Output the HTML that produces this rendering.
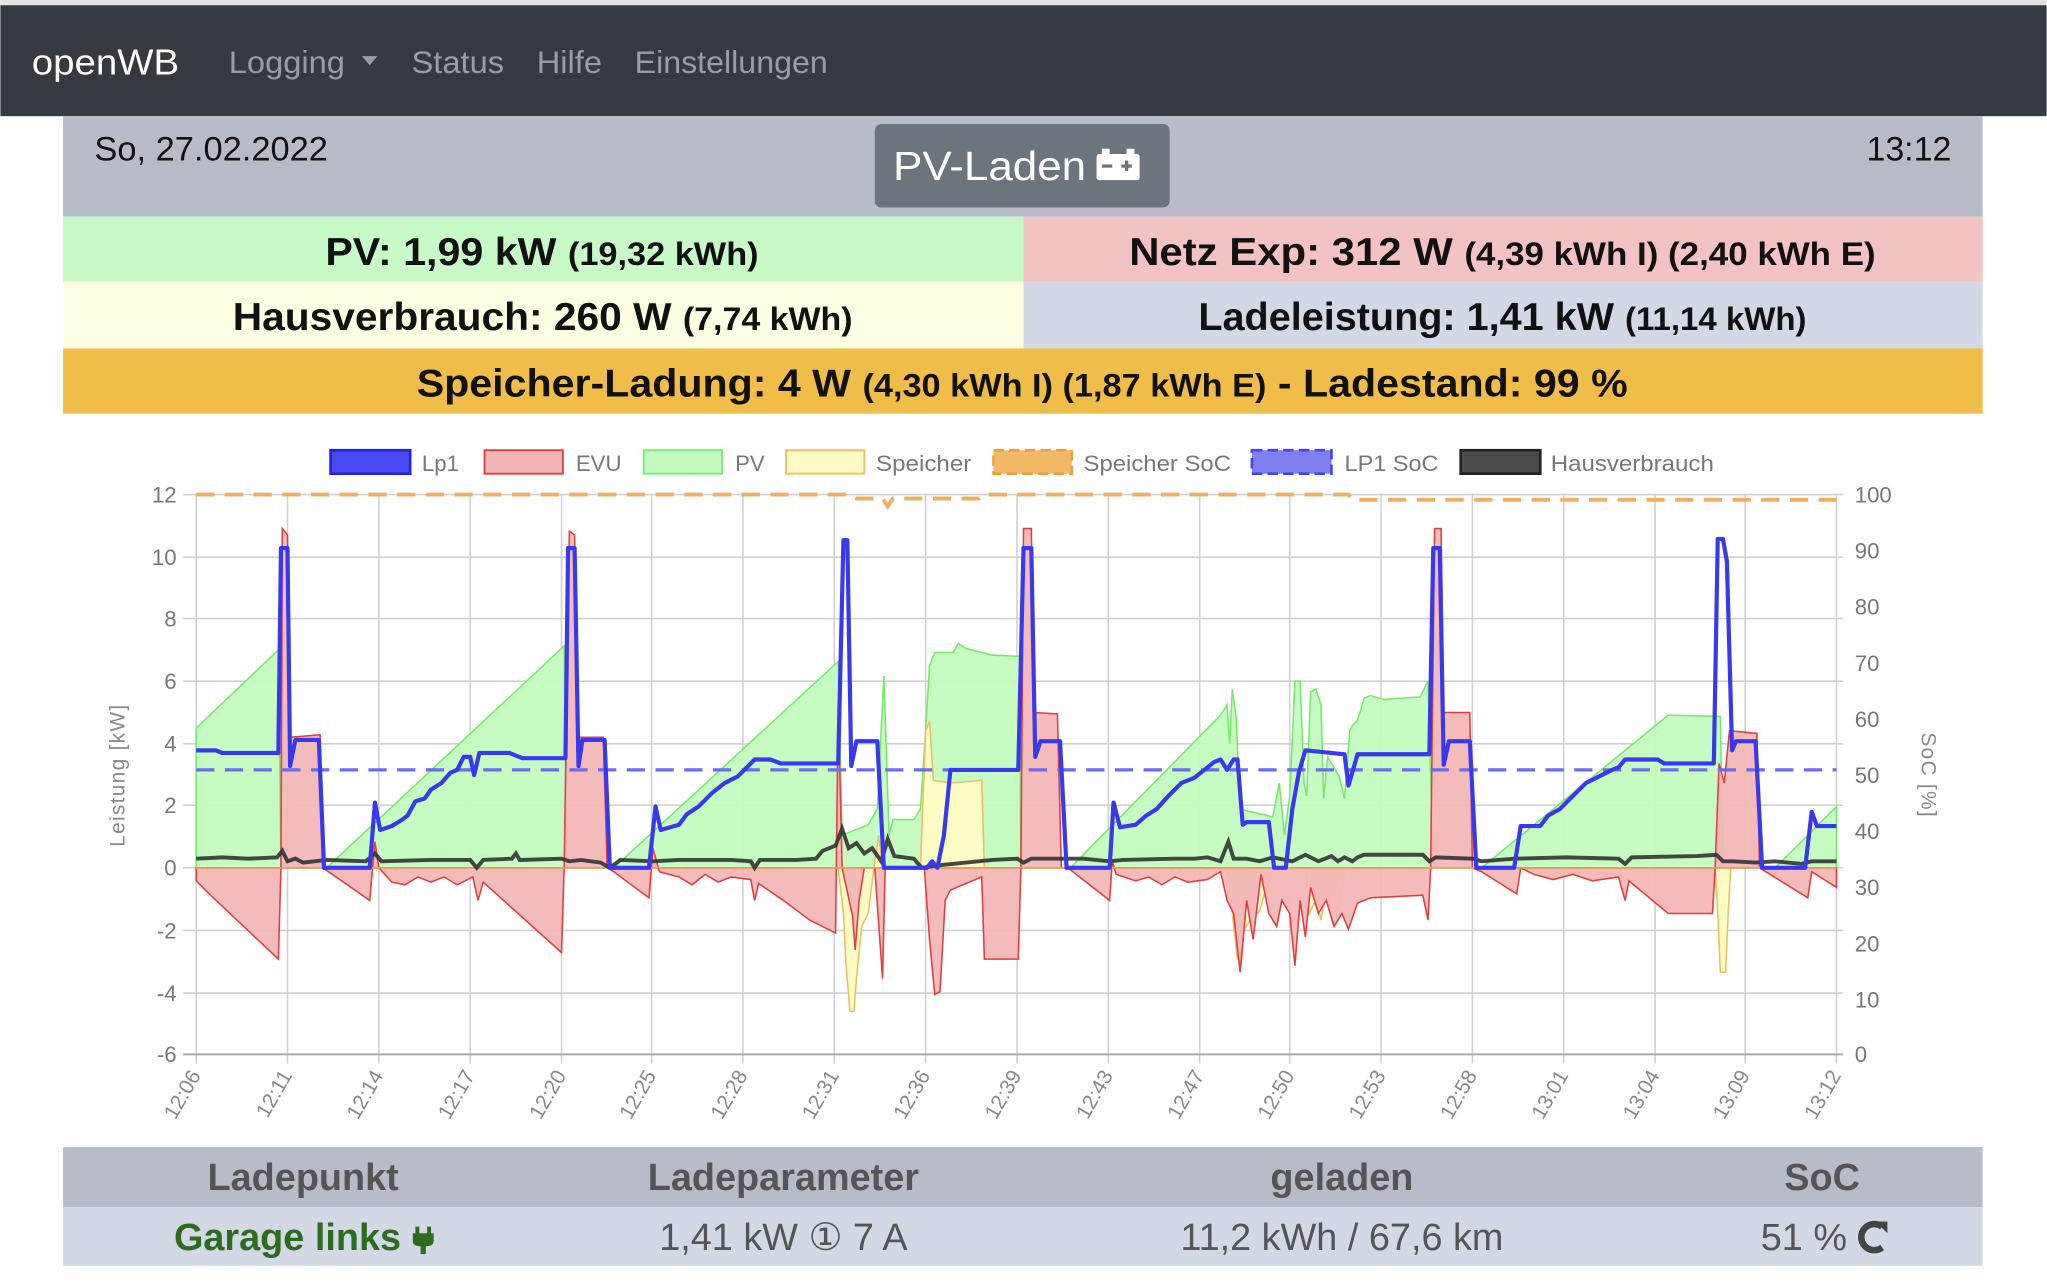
<!DOCTYPE html>
<html><head><meta charset="utf-8"><style>
html,body{margin:0;padding:0;background:#fff;}
svg{display:block;}
text{font-family:"Liberation Sans",sans-serif;}
</style></head><body>
<svg width="2047" height="1288" viewBox="0 0 1568 987" xmlns="http://www.w3.org/2000/svg">
<rect x="0" y="0" width="1568" height="987" fill="#fff"/>
<rect x="0" y="0" width="1568" height="4" fill="#e2e2e2"/>
<rect x="0" y="4" width="1568" height="85" fill="#343a40"/>
<text x="24" y="57" font-size="28" fill="#fff" textLength="113" lengthAdjust="spacingAndGlyphs">openWB</text>
<g font-size="24" fill="#9a9da1">
<text x="175" y="56" textLength="89" lengthAdjust="spacingAndGlyphs">Logging</text>
<path d="M277 43 L289 43 L283 50 Z" fill="#9a9da1"/>
<text x="315" y="56" textLength="71" lengthAdjust="spacingAndGlyphs">Status</text>
<text x="411" y="56" textLength="50" lengthAdjust="spacingAndGlyphs">Hilfe</text>
<text x="486" y="56" textLength="148" lengthAdjust="spacingAndGlyphs">Einstellungen</text>
</g>
<rect x="48" y="89" width="1471" height="77" fill="#b8bcc8"/>
<text x="72" y="123" font-size="26" fill="#111" textLength="179" lengthAdjust="spacingAndGlyphs">So, 27.02.2022</text>
<text x="1495" y="123" font-size="26" fill="#111" text-anchor="end">13:12</text>
<rect x="670" y="95" width="226" height="64" rx="5" fill="#6c757d"/>
<text x="684" y="138" font-size="31" fill="#fff" textLength="148" lengthAdjust="spacingAndGlyphs">PV-Laden</text>
<rect x="840" y="118" width="33" height="20" rx="2" fill="#fff"/>
<rect x="844" y="114" width="6" height="4" fill="#fff"/><rect x="863" y="114" width="6" height="4" fill="#fff"/>
<rect x="844" y="126" width="8" height="2.5" fill="#6c757d"/>
<rect x="859" y="126" width="8" height="2.5" fill="#6c757d"/><rect x="861.8" y="123" width="2.5" height="8" fill="#6c757d"/>
<rect x="48" y="166" width="736" height="50" fill="#c8fac8"/>
<rect x="784" y="166" width="735" height="50" fill="#f3c3c3"/>
<rect x="48" y="216" width="736" height="51" fill="#fefee3"/>
<rect x="784" y="216" width="735" height="51" fill="#d2d8e6"/>
<rect x="48" y="267" width="1471" height="50" fill="#f0bd48"/>
<g font-weight="bold" fill="#111">
<text x="249" y="203" font-size="30" textLength="332" lengthAdjust="spacingAndGlyphs">PV: 1,99 kW <tspan font-size="25">(19,32 kWh)</tspan></text>
<text x="865" y="203" font-size="30" textLength="572" lengthAdjust="spacingAndGlyphs">Netz Exp: 312 W <tspan font-size="25">(4,39 kWh I) (2,40 kWh E)</tspan></text>
<text x="178" y="253" font-size="30" textLength="475" lengthAdjust="spacingAndGlyphs">Hausverbrauch: 260 W <tspan font-size="25">(7,74 kWh)</tspan></text>
<text x="918" y="253" font-size="30" textLength="466" lengthAdjust="spacingAndGlyphs">Ladeleistung: 1,41 kW <tspan font-size="25">(11,14 kWh)</tspan></text>
<text x="319" y="304" font-size="30" textLength="928" lengthAdjust="spacingAndGlyphs">Speicher-Ladung: 4 W <tspan font-size="25">(4,30 kWh I) (1,87 kWh E)</tspan> - Ladestand: 99 %</text>
</g>
<g font-size="17" fill="#777">
<rect x="253" y="345" width="61" height="18" fill="#4a4af5" stroke="#2222dd" stroke-width="2"/><text x="323" y="361">Lp1</text>
<rect x="371" y="345" width="60" height="18" fill="#f4b6b6" stroke="#dd4444" stroke-width="1.5"/><text x="441" y="361">EVU</text>
<rect x="493" y="345" width="60" height="18" fill="#c3fbbf" stroke="#7eea74" stroke-width="1.5"/><text x="563" y="361">PV</text>
<rect x="602" y="345" width="60" height="18" fill="#fbfbc3" stroke="#f0c060" stroke-width="1.5"/><text x="671" y="361" textLength="73" lengthAdjust="spacingAndGlyphs">Speicher</text>
<rect x="761" y="345" width="60" height="18" fill="#f2b865" stroke="#e8a040" stroke-width="2" stroke-dasharray="8 4"/><text x="830" y="361" textLength="113" lengthAdjust="spacingAndGlyphs">Speicher SoC</text>
<rect x="959" y="345" width="61" height="18" fill="#7f7ff2" stroke="#4444ee" stroke-width="2" stroke-dasharray="8 4"/><text x="1030" y="361" textLength="72" lengthAdjust="spacingAndGlyphs">LP1 SoC</text>
<rect x="1119" y="345" width="61" height="18" fill="#4a4a4a" stroke="#222" stroke-width="2"/><text x="1188" y="361" textLength="125" lengthAdjust="spacingAndGlyphs">Hausverbrauch</text>
</g>
<g stroke="#d0d0d0" stroke-width="1.2">
<line x1="140" y1="379" x2="1412" y2="379"/><line x1="140" y1="427" x2="1412" y2="427"/>
<line x1="140" y1="474" x2="1412" y2="474"/><line x1="140" y1="522" x2="1412" y2="522"/>
<line x1="140" y1="570" x2="1412" y2="570"/><line x1="140" y1="617" x2="1412" y2="617"/>
<line x1="140" y1="665" x2="1412" y2="665"/><line x1="140" y1="713" x2="1412" y2="713"/>
<line x1="140" y1="761" x2="1412" y2="761"/>
<line x1="150" y1="379" x2="150" y2="815"/><line x1="220" y1="379" x2="220" y2="815"/><line x1="290" y1="379" x2="290" y2="815"/>
<line x1="360" y1="379" x2="360" y2="815"/><line x1="430" y1="379" x2="430" y2="815"/><line x1="499" y1="379" x2="499" y2="815"/>
<line x1="569" y1="379" x2="569" y2="815"/><line x1="639" y1="379" x2="639" y2="815"/><line x1="709" y1="379" x2="709" y2="815"/>
<line x1="779" y1="379" x2="779" y2="815"/><line x1="849" y1="379" x2="849" y2="815"/><line x1="919" y1="379" x2="919" y2="815"/>
<line x1="988" y1="379" x2="988" y2="815"/><line x1="1058" y1="379" x2="1058" y2="815"/><line x1="1128" y1="379" x2="1128" y2="815"/>
<line x1="1198" y1="379" x2="1198" y2="815"/><line x1="1268" y1="379" x2="1268" y2="815"/><line x1="1337" y1="379" x2="1337" y2="815"/>
<line x1="1407" y1="379" x2="1407" y2="815"/>
</g>
<line x1="140" y1="808" x2="1412" y2="808" stroke="#aaa" stroke-width="1.5"/>
<g font-size="17" fill="#777" text-anchor="end">
<text x="135" y="385">12</text><text x="135" y="433">10</text><text x="135" y="480">8</text><text x="135" y="528">6</text>
<text x="135" y="576">4</text><text x="135" y="623">2</text><text x="135" y="671">0</text><text x="135" y="719">-2</text>
<text x="135" y="767">-4</text><text x="135" y="814">-6</text>
</g>
<g font-size="17" fill="#777">
<text x="1421" y="385">100</text><text x="1421" y="428">90</text><text x="1421" y="471">80</text><text x="1421" y="514">70</text>
<text x="1421" y="557">60</text><text x="1421" y="600">50</text><text x="1421" y="643">40</text><text x="1421" y="686">30</text>
<text x="1421" y="729">20</text><text x="1421" y="772">10</text><text x="1421" y="814">0</text>
</g>
<text transform="translate(95,594) rotate(-90)" font-size="16" fill="#888" text-anchor="middle" letter-spacing="1">Leistung [kW]</text>
<text transform="translate(1472,594) rotate(90)" font-size="16" fill="#888" text-anchor="middle" letter-spacing="1">SoC [%]</text>
<g font-size="16" fill="#888" text-anchor="end">
<text transform="translate(154,824) rotate(-60)">12:06</text>
<text transform="translate(224,824) rotate(-60)">12:11</text>
<text transform="translate(294,824) rotate(-60)">12:14</text>
<text transform="translate(364,824) rotate(-60)">12:17</text>
<text transform="translate(434,824) rotate(-60)">12:20</text>
<text transform="translate(503,824) rotate(-60)">12:25</text>
<text transform="translate(573,824) rotate(-60)">12:28</text>
<text transform="translate(643,824) rotate(-60)">12:31</text>
<text transform="translate(713,824) rotate(-60)">12:36</text>
<text transform="translate(783,824) rotate(-60)">12:39</text>
<text transform="translate(853,824) rotate(-60)">12:43</text>
<text transform="translate(923,824) rotate(-60)">12:47</text>
<text transform="translate(992,824) rotate(-60)">12:50</text>
<text transform="translate(1062,824) rotate(-60)">12:53</text>
<text transform="translate(1132,824) rotate(-60)">12:58</text>
<text transform="translate(1202,824) rotate(-60)">13:01</text>
<text transform="translate(1272,824) rotate(-60)">13:04</text>
<text transform="translate(1341,824) rotate(-60)">13:09</text>
<text transform="translate(1411,824) rotate(-60)">13:12</text>
</g>
<path d="M150,665 L150,558 L213,498 L215,665 L250,665 L432,495 L434,665 L470,665 L642,507 L645,640 L665,632 L672,620 L677,518 L681,640 L684,628 L700,628 L705,620 L709,560 L712,510 L716,500 L730,500 L734,493 L740,497 L760,502 L781,503 L782,665 L820,665 L935,548 L940,540 L942,570 L944,528 L947,550 L950,620 L975,626 L980,600 L984,640 L988,610 L992,522 L996,522 L999,600 L1001,610 L1004,530 L1008,528 L1012,540 L1014,612 L1017,580 L1026,595 L1030,612 L1034,560 L1036,556 L1040,552 L1045,535 L1050,533 L1060,536 L1088,534 L1094,522 L1098,665 L1135,665 L1278,548 L1318,549 L1320,665 L1360,665 L1407,618 L1407,665 Z" fill="#c3fbbf" fill-opacity="0.95" stroke="#78e86d" stroke-width="1.2"/>
<path d="M642,665 L646,700 L648,740 L651,775 L654,775 L656,750 L660,710 L665,700 L670,660 L673,640 L676,665 Z M705,665 L709,560 L712,553 L715,598 L728,600 L752,598 L754,665 Z M940,665 L944,700 L948,735 L951,738 L953,712 L958,705 L965,698 L970,680 L975,670 Z M1000,665 L1003,700 L1008,690 L1012,705 L1016,680 L1020,700 L1026,695 L1030,670 L1035,665 Z M1314,665 L1316,700 L1318,745 L1322,745 L1324,700 L1326,665 Z" fill="#fbfbc3" stroke="#ecc060" stroke-width="1.2"/>
<path d="M150,665 L150,675 L160,685 L213,735 L215,665 L216,405 L220,410 L222,565 L245,563 L247,665 L250,667 L283,690 L287,645 L290,665 L300,676 L310,678 L320,672 L330,676 L340,672 L350,678 L362,672 L366,690 L370,676 L380,685 L430,730 L432,665 L436,407 L440,410 L442,565 L462,565 L465,665 L470,668 L497,688 L500,650 L505,668 L520,672 L530,678 L540,670 L550,676 L560,672 L575,674 L578,690 L581,677 L600,690 L620,705 L640,715 L642,540 L645,665 L653,702 L655,728 L658,690 L662,665 L670,665 L676,750 L678,665 L708,665 L712,720 L716,762 L720,760 L724,690 L728,682 L752,672 L754,735 L780,735 L782,665 L784,405 L790,405 L792,546 L810,547 L813,665 L818,665 L850,690 L852,660 L855,670 L870,675 L880,672 L890,678 L900,672 L910,676 L925,674 L935,668 L940,690 L945,700 L950,745 L955,690 L960,720 L966,670 L972,700 L978,710 L982,690 L988,700 L992,740 L996,690 L1000,718 L1004,680 L1010,700 L1016,690 L1022,710 L1028,700 L1033,712 L1040,692 L1050,688 L1090,686 L1094,705 L1096,665 L1099,405 L1104,405 L1106,546 L1126,546 L1128,665 L1135,668 L1162,685 L1165,665 L1175,670 L1190,674 L1205,670 L1220,675 L1240,672 L1245,690 L1248,675 L1278,700 L1312,700 L1314,665 L1317,585 L1321,600 L1325,560 L1346,562 L1348,665 L1385,688 L1388,668 L1407,680 L1407,665 Z" fill="#f4b6b6" fill-opacity="0.95" stroke="#dd4040" stroke-width="1.2"/>
<line x1="150" y1="665" x2="1407" y2="665" stroke="#e8a050" stroke-width="1.2"/>
<path d="M150,379 L652,379 L656,382 L676,382 L680,388 L684,382 L750,382 L753,379 L1033,379 L1036,383 L1407,383" fill="none" stroke="#eeb060" stroke-width="3" stroke-dasharray="14 8"/>
<line x1="150" y1="590" x2="1407" y2="590" stroke="#6b6bf0" stroke-width="2.5" stroke-dasharray="14 8"/>
<path d="M150,658 L170,657 L190,658 L212,657 L216,652 L220,660 L226,658 L232,661 L250,659 L280,660 L287,654 L292,660 L330,659 L360,659 L365,665 L370,659 L392,658 L395,654 L398,659 L430,658 L436,660 L445,659 L460,661 L467,665 L475,659 L500,660 L520,659 L560,659 L575,660 L578,665 L582,659 L610,659 L625,658 L630,652 L640,648 L645,635 L650,650 L656,646 L662,654 L668,650 L675,660 L680,643 L685,656 L700,658 L706,665 L720,663 L760,659 L779,658 L784,661 L790,658 L830,658 L850,660 L860,659 L900,658 L915,658 L925,657 L935,660 L941,645 L945,658 L955,658 L965,660 L975,657 L990,660 L1000,655 L1010,660 L1020,656 L1025,660 L1030,657 L1036,660 L1040,657 L1045,655 L1090,655 L1095,660 L1100,657 L1128,658 L1135,660 L1160,658 L1200,657 L1240,658 L1245,662 L1250,657 L1300,656 L1315,655 L1320,660 L1328,660 L1345,661 L1360,660 L1380,662 L1388,660 L1407,660" fill="none" stroke="#333" stroke-width="3" stroke-opacity="0.9"/>
<path d="M150,575 L165,575 L170,577 L213,577 L215,420 L220,420 L222,587 L226,567 L244,567 L248,665 L283,665 L287,615 L291,636 L300,633 L308,628 L312,625 L318,614 L325,612 L330,605 L338,600 L345,592 L350,590 L355,580 L360,580 L363,594 L367,577 L390,577 L400,581 L433,581 L435,420 L440,420 L443,587 L446,567 L463,567 L467,665 L497,665 L502,618 L506,636 L520,632 L526,624 L535,618 L545,608 L555,600 L565,595 L572,588 L578,582 L590,582 L598,585 L642,585 L646,414 L649,414 L652,587 L656,568 L672,568 L677,665 L710,665 L714,660 L718,665 L723,640 L728,590 L780,590 L784,420 L790,420 L793,580 L797,568 L812,568 L817,665 L850,665 L853,615 L858,634 L870,632 L878,625 L886,620 L895,610 L905,600 L915,596 L925,588 L930,584 L935,582 L940,590 L945,582 L948,582 L952,632 L955,630 L972,630 L976,665 L985,665 L990,620 L995,592 L1000,575 L1030,578 L1033,602 L1040,578 L1095,578 L1098,420 L1103,420 L1106,586 L1110,568 L1126,568 L1131,665 L1160,665 L1165,633 L1180,633 L1186,625 L1195,620 L1205,610 L1215,600 L1225,595 L1235,590 L1240,588 L1245,582 L1270,582 L1275,585 L1313,585 L1316,413 L1320,413 L1323,430 L1327,575 L1330,568 L1345,568 L1350,665 L1383,665 L1388,622 L1392,633 L1407,633" fill="none" stroke="#3838ee" stroke-width="3.2" stroke-linejoin="round"/>
<rect x="48" y="879" width="1471" height="46" fill="#b8bcc8"/>
<rect x="48" y="925" width="1471" height="45" fill="#d2d8e6"/>
<g font-size="29" font-weight="bold" fill="#555" text-anchor="middle">
<text x="232" y="912">Ladepunkt</text>
<text x="600" y="912">Ladeparameter</text>
<text x="1028" y="912">geladen</text>
<text x="1396" y="912">SoC</text>
</g>
<text x="220" y="958" font-size="29" font-weight="bold" fill="#2e6b1f" text-anchor="middle">Garage links</text>
<path d="M318,940 L321,940 L321,945 L327,945 L327,940 L330,940 L330,945 L332,945 L332,951 Q332,955 326,955 L326,961 L322,961 L322,955 Q316,955 316,951 L316,945 L318,945 Z" fill="#2e6b1f"/>
<g font-size="29" fill="#555" text-anchor="middle">
<text x="600" y="958">1,41 kW ① 7 A</text>
<text x="1028" y="958">11,2 kWh / 67,6 km</text>
<text x="1382" y="958">51 %</text>
</g>
<path d="M1442,940 A10,10 0 1 0 1442,956" fill="none" stroke="#444" stroke-width="5"/>
<path d="M1437,936 L1446,936 L1446,945 Z" fill="#444"/>
</svg>
</body></html>
